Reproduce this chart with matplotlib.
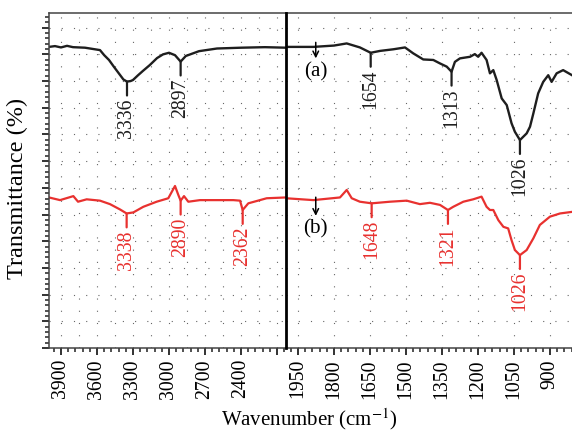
import numpy as np
import matplotlib
matplotlib.use("Agg")
import matplotlib.pyplot as plt
from matplotlib.ticker import FixedLocator, FuncFormatter

plt.rcParams['font.family'] = ['Liberation Serif', 'DejaVu Serif']
plt.rcParams['mathtext.fontset'] = 'stix'

# spectrum (a), black: wavenumber / transmittance (arbitrary offset units)
a_wn_hi = [4000, 3950, 3900, 3850, 3800, 3700, 3575, 3540, 3500, 3460, 3420, 3380, 3350, 3320,
           3300, 3260, 3220, 3160, 3100, 3050, 3000, 2950, 2903, 2860, 2750, 2600, 2400, 2200, 2025]
a_t_hi = [112.8, 113.1, 112.6, 113.2, 112.7, 112.5, 111.6, 109.7, 107.9, 105.4, 103.0, 100.6, 99.8, 100.0,
          100.4, 102.1, 103.7, 106.0, 108.6, 110.0, 110.6, 109.7, 107.3, 109.4, 111.2, 112.2, 112.5, 112.7, 112.5]
a_wn_lo = [2000, 1886, 1800, 1747, 1692, 1647, 1608, 1553, 1504, 1470, 1428, 1386, 1358, 1330,
           1310, 1296, 1275, 1233, 1213, 1199, 1185, 1164, 1150, 1136, 1122, 1101, 1080, 1060,
           1046, 1025, 997, 983, 969, 949, 928, 907, 893, 872, 845, 808]
a_t_lo = [112.8, 112.8, 113.3, 114.1, 112.6, 110.6, 111.3, 111.9, 112.6, 110.4, 108.1, 107.9, 106.6, 105.4,
          103.5, 107.2, 108.5, 109.1, 110.1, 109.1, 110.6, 107.9, 102.9, 104.1, 100.4, 93.5, 91.0, 84.2,
          81.0, 77.9, 80.4, 82.9, 87.9, 95.4, 99.7, 102.2, 99.7, 102.9, 104.1, 102.2]

# spectrum (b), red
b_wn_hi = [4000, 3908, 3797, 3758, 3686, 3575, 3492, 3408, 3353, 3297, 3214, 3103, 3006, 2950,
           2922, 2903, 2875, 2839, 2742, 2464, 2408, 2386, 2339, 2186, 2025]
b_t_hi = [56.4, 55.4, 56.9, 54.8, 55.7, 55.2, 53.9, 51.9, 50.4, 50.8, 52.9, 54.8, 56.1, 60.7,
          57.3, 55.2, 56.9, 54.8, 55.4, 55.4, 55.2, 51.7, 54.2, 56.1, 56.4]
b_wn_lo = [2000, 1886, 1775, 1747, 1726, 1692, 1643, 1567, 1497, 1442, 1400, 1358, 1325, 1303,
           1261, 1220, 1185, 1164, 1150, 1136, 1115, 1094, 1074, 1060, 1046, 1025, 997, 969,
           942, 900, 858, 808]
b_t_lo = [56.1, 55.4, 56.4, 59.2, 56.1, 54.8, 54.2, 54.8, 55.2, 53.9, 54.4, 53.6, 51.7, 52.9,
          54.8, 55.7, 56.7, 52.9, 51.7, 51.7, 47.9, 45.4, 44.8, 40.4, 36.7, 34.8, 36.7, 41.1,
          46.1, 49.2, 50.4, 51.0]

# peak labels: (position on axis, label text)
a_peaks_hi = [(3350, '3336'), (2903, '2897')]
a_peaks_lo = [(1647, '1654'), (1310, '1313'), (1025, '1026')]
b_peaks_hi = [(3353, '3338'), (2903, '2890'), (2386, '2362')]
b_peaks_lo = [(1643, '1648'), (1325, '1321'), (1025, '1026')]

hi_ticks = [3900, 3600, 3300, 3000, 2700, 2400, 2100]
lo_ticks = [1950, 1800, 1650, 1500, 1350, 1200, 1050, 900]

BLACK = '#1e1e1e'
RED = '#e8312f'
SPINE = '#444444'
FS = 14.2

fig = plt.figure(figsize=(5.72, 4.34), dpi=100)
axL = fig.add_axes([49 / 572, 86 / 434, 237 / 572, 335 / 434])
axR = fig.add_axes([286 / 572, 86 / 434, 286 / 572, 335 / 434])

for ax in (axL, axR):
    ax.set_ylim(0, 125.5)
    for s in ('top', 'bottom', 'left'):
        ax.spines[s].set_color(SPINE)
        ax.spines[s].set_linewidth(1.1)
    ax.spines['right'].set_visible(False)
    ax.tick_params(axis='x', which='major', direction='out', length=5, width=1.3,
                   color='#222222', labelrotation=90, labelsize=FS, pad=3)
    ax.tick_params(axis='x', which='minor', direction='out', length=3, width=1.1, color='#222222')
    # loose dotted grid
    for yv in np.arange(10, 125, 10):
        ax.axhline(yv, color='#666666', lw=0.8, ls=(0, (1, 10)), zorder=0)

axL.set_xlim(4000, 2025)
axR.set_xlim(2000, 808)

axL.xaxis.set_major_locator(FixedLocator(hi_ticks))
axL.xaxis.set_minor_locator(FixedLocator(np.arange(3960, 2025, -60)))
axL.xaxis.set_major_formatter(FuncFormatter(lambda v, p: '' if v < 2300 else '%d' % v))
axR.xaxis.set_major_locator(FixedLocator(lo_ticks))
axR.xaxis.set_minor_locator(FixedLocator(np.arange(1980, 808, -30)))
axR.xaxis.set_major_formatter(FuncFormatter(lambda v, p: '%d' % v))

for xv in np.arange(3900, 2025, -150):
    axL.axvline(xv, color='#666666', lw=0.8, ls=(0, (1, 10)), zorder=0)
for xv in lo_ticks:
    axR.axvline(xv, color='#666666', lw=0.8, ls=(0, (1, 10)), zorder=0)

axL.yaxis.set_major_locator(FixedLocator(np.arange(0, 125, 10)))
axL.yaxis.set_minor_locator(FixedLocator(np.arange(0, 125, 2)))
axL.tick_params(axis='y', which='major', direction='out', length=5, width=1.3,
                color='#222222', labelleft=False)
axL.tick_params(axis='y', which='minor', direction='out', length=3, width=1.1, color='#222222')
axR.set_yticks([])
axR.spines['left'].set_color('black')
axR.spines['left'].set_linewidth(2.0)
axR.spines['left'].set_zorder(5)

axL.plot(a_wn_hi, a_t_hi, color=BLACK, lw=1.7)
axR.plot(a_wn_lo, a_t_lo, color=BLACK, lw=1.7)
axL.plot(b_wn_hi, b_t_hi, color=RED, lw=1.6)
axR.plot(b_wn_lo, b_t_lo, color=RED, lw=1.6)


def label_peaks(ax, wn, t, peaks, color):
    for pos, txt in peaks:
        yv = np.interp(pos, wn[::-1], t[::-1])
        ax.annotate(txt, xy=(pos, yv), xytext=(0, -12), textcoords='offset points',
                    rotation=90, ha='center', va='top', fontsize=FS, color=color,
                    arrowprops=dict(arrowstyle='-', color=color, lw=1.6,
                                    shrinkA=0, shrinkB=0))


label_peaks(axL, a_wn_hi, a_t_hi, a_peaks_hi, BLACK)
label_peaks(axR, a_wn_lo, a_t_lo, a_peaks_lo, BLACK)
label_peaks(axL, b_wn_hi, b_t_hi, b_peaks_hi, RED)
label_peaks(axR, b_wn_lo, b_t_lo, b_peaks_lo, RED)

# curve markers (a) and (b)
for ytop, ybot, ytxt, txt in [(114.5, 108.5, 103.5, '(a)'), (56.5, 49.5, 44.5, '(b)')]:
    axR.annotate('', xy=(1876, ybot), xytext=(1876, ytop),
                 arrowprops=dict(arrowstyle='->', color='black', lw=1.1,
                                 shrinkA=0, shrinkB=0))
    axR.text(1876, ytxt, txt, ha='center', va='center', fontsize=FS + 1)

axL.set_ylabel('Transmittance (%)', fontsize=17.5)
axL.yaxis.set_label_coords(-0.087, 0.475)
fig.text(309.5 / 572, 1 - 419 / 434, 'Wavenumber (cm$^{-1}$)', ha='center', va='center', fontsize=15)

fig.savefig('out.png', dpi=100)
